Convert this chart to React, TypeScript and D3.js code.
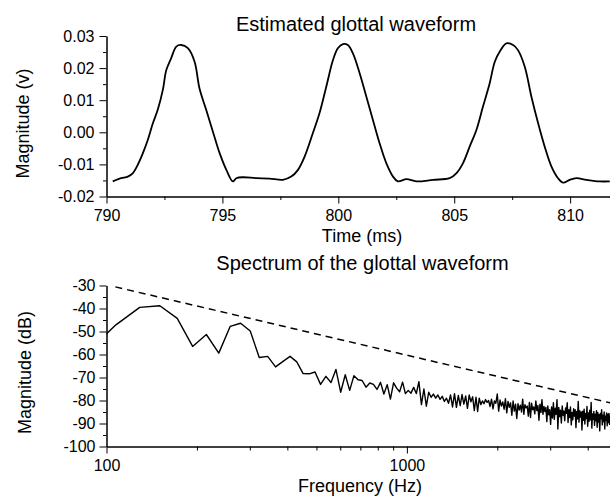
import React, { useRef, useEffect } from 'react';
import * as d3 from 'd3';

// glottal waveform (time in ms, magnitude in V)
const timeMs = [
  790.27, 790.63, 790.92, 791.14, 791.35, 791.57, 791.78, 792.0, 792.21, 792.43,
  792.58, 792.79, 793.01, 793.22, 793.51, 793.8, 794.01, 794.3, 794.59, 794.88,
  795.17, 795.45, 795.6, 795.88, 796.46, 797.03, 797.61, 797.97, 798.26, 798.55,
  798.9, 799.19, 799.48, 799.77, 799.98, 800.2, 800.41, 800.63, 800.92, 801.21,
  801.49, 801.78, 802.07, 802.36, 802.57, 802.94, 803.37, 804.09, 804.8, 805.1,
  805.38, 805.67, 805.96, 806.24, 806.53, 806.75, 806.96, 807.25, 807.54, 807.75,
  808.04, 808.33, 808.62, 808.9, 809.19, 809.48, 809.7, 809.98, 810.27, 810.7,
  811.28, 811.71,
];
const glottalV = [
  -0.0153, -0.0143, -0.0138, -0.0127, -0.0101, -0.0065, -0.0024, 0.0028, 0.0070, 0.0132,
  0.0194, 0.0231, 0.0267, 0.0272, 0.0262, 0.0220, 0.0137, 0.0070, 0.0002, -0.0065,
  -0.0117, -0.0153, -0.0143, -0.0140, -0.0143, -0.0144, -0.0148, -0.0138, -0.0117, -0.0075,
  -0.0003, 0.0060, 0.0142, 0.0225, 0.0262, 0.0275, 0.0272, 0.0246, 0.0184, 0.0111,
  0.0039, -0.0034, -0.0096, -0.0138, -0.0153, -0.0146, -0.0153, -0.0148, -0.0143, -0.0127,
  -0.0096, -0.0044, 0.0008, 0.0080, 0.0153, 0.0220, 0.0251, 0.0277, 0.0272, 0.0256,
  0.0205, 0.0111, 0.0028, -0.0044, -0.0106, -0.0143, -0.0157, -0.0148, -0.0143, -0.0148,
  -0.0153, -0.0153,
];

// spectrum: FFT bins of 21.5 Hz starting at bin 4
const binHz = 21.5;
const firstBin = 4;
const spectrumDb = [
  -59, -47.1, -39.5, -38.8, -44.3, -56.5, -51.3, -59.4, -47.8, -46.4,
  -49.8, -61.3, -60.8, -65.4, -63.0, -60.8, -63.2, -68.3, -68.4, -67.6,
  -73.0, -69.5, -72.2, -66.5, -76.4, -68.8, -75.6, -69.2, -71.0, -71.3,
  -74.2, -72.4, -73.0, -75.2, -72.1, -77.2, -73.1, -79.4, -72.3, -74.6,
  -76.2, -72.0, -77.0, -75.6, -76.8, -74.3, -77.0, -71.8, -81.8, -75.0,
  -82.5, -76.4, -78.6, -77.2, -79.0, -77.6, -79.5, -78.2, -80.4, -79.0,
  -81.2, -77.6, -82.8, -77.0, -83.0, -77.8, -82.2, -77.4, -81.6, -78.0,
  -83.4, -77.6, -80.6, -78.4, -84.4, -78.6, -84.8, -79.0, -81.8, -80.2,
  -81.4, -79.6, -80.8, -80.0, -82.6, -79.4, -83.6, -80.2, -81.2, -77.2,
  -84.6, -79.8, -82.4, -80.6, -83.8, -79.2, -85.4, -80.4, -83.0, -81.0,
  -86.4, -80.2, -84.6, -81.6, -87.8, -81.4, -84.2, -82.0, -85.0, -79.4,
  -86.0, -81.8, -83.2, -82.4, -86.8, -80.8, -87.4, -81.2, -84.0, -82.8,
  -85.8, -80.2, -84.4, -82.2, -88.6, -81.6, -85.2, -79.6, -86.0, -82.6,
  -84.8, -83.0, -89.2, -82.4, -86.2, -84.0, -90.4, -82.8, -87.6, -81.0,
  -88.2, -83.4, -86.0, -79.6, -92.4, -83.0, -87.0, -84.2, -89.8, -82.4,
  -86.4, -84.6, -88.8, -83.2, -85.6, -81.0, -89.6, -84.0, -87.4, -82.8,
  -90.6, -85.2, -88.4, -83.6, -86.8, -84.0, -91.8, -84.8, -88.0, -80.4,
  -89.4, -84.4, -87.2, -85.0, -92.8, -84.6, -88.6, -83.8, -90.2, -85.6,
  -87.8, -82.6, -91.2, -85.4, -89.0, -84.2, -88.4, -80.8, -92.0, -85.8,
  -88.2, -84.8, -90.8, -86.0, -88.8, -84.4, -91.6, -85.2, -89.4, -86.2,
  -93.2, -85.6, -88.0, -84.0, -90.6, -86.4, -89.2, -85.0, -92.4, -86.8,
  -88.6, -85.4, -91.0, -86.0, -89.6, -85.6, -90.4, -86.6,
];

// dashed envelope line
const envelopeHz = [107, 4745];
const envelopeDb = [-30.6, -81.0];

const topYTicks = [-0.02, -0.01, 0.0, 0.01, 0.02, 0.03];
const topXTicks = [790, 795, 800, 805, 810];
const botYTicks = [-100, -90, -80, -70, -60, -50, -40, -30];
const botXTicks = [100, 1000];

const FONT = '"Liberation Sans", Arial, sans-serif';

function App() {
  const ref = useRef<SVGSVGElement>(null);

  useEffect(() => {
    const svg = d3.select(ref.current);
    svg.selectAll('*').remove();

    const styleAxis = (g: any, fontSize: number) => {
      g.selectAll('path').attr('stroke', '#000').attr('stroke-width', 1);
      g.selectAll('line').attr('stroke', '#000').attr('stroke-width', 1);
      g.selectAll('text')
        .attr('fill', '#000')
        .style('font-family', FONT)
        .style('font-size', `${fontSize}px`);
    };

    // ---------- top panel ----------
    const x1 = d3.scaleLinear().domain([790, 811.72]).range([106.5, 610]);
    const y1 = d3.scaleLinear().domain([-0.02, 0.03]).range([196.5, 36]);

    const top = svg.append('g');

    top.append('g')
      .attr('transform', 'translate(106.5,0)')
      .call(d3.axisLeft(y1).tickValues(d3.range(-0.015, 0.03, 0.01)).tickSize(3.5).tickSizeOuter(0).tickFormat(() => ''))
      .call(g => styleAxis(g, 16));
    top.append('g')
      .attr('transform', 'translate(106.5,0)')
      .call(d3.axisLeft(y1).tickValues(topYTicks).tickSize(7).tickPadding(5).tickSizeOuter(0)
        .tickFormat(d => (+d).toFixed(2)))
      .call(g => styleAxis(g, 16));

    top.append('g')
      .attr('transform', 'translate(0,196.5)')
      .call(d3.axisBottom(x1).tickValues([792.5, 797.5, 802.5, 807.5]).tickSize(3.5).tickSizeOuter(0).tickFormat(() => ''))
      .call(g => styleAxis(g, 16));
    top.append('g')
      .attr('transform', 'translate(0,196.5)')
      .call(d3.axisBottom(x1).tickValues(topXTicks).tickSize(7).tickPadding(6).tickSizeOuter(0)
        .tickFormat(d => String(d)))
      .call(g => styleAxis(g, 16));

    const waveLine = d3.line<number>()
      .x((_, i) => x1(timeMs[i]))
      .y(d => y1(d))
      .curve(d3.curveCatmullRom);

    top.append('path')
      .datum(glottalV)
      .attr('d', waveLine)
      .attr('fill', 'none')
      .attr('stroke', '#000')
      .attr('stroke-width', 1.8);

    top.append('text')
      .attr('x', 356).attr('y', 31)
      .attr('text-anchor', 'middle')
      .style('font-family', FONT).style('font-size', '20px')
      .text('Estimated glottal waveform');
    top.append('text')
      .attr('x', 362).attr('y', 242)
      .attr('text-anchor', 'middle')
      .style('font-family', FONT).style('font-size', '18px')
      .text('Time (ms)');
    top.append('text')
      .attr('transform', 'translate(28.5,123.5) rotate(-90)')
      .attr('text-anchor', 'middle')
      .style('font-family', FONT).style('font-size', '18px')
      .text('Magnitude (v)');

    // ---------- bottom panel ----------
    const x2 = d3.scaleLog().domain([100, 4745]).range([106.5, 610]);
    const y2 = d3.scaleLinear().domain([-100, -30]).range([446.5, 285.5]);

    const bot = svg.append('g');

    bot.append('defs').append('clipPath').attr('id', 'specClip')
      .append('rect').attr('x', 106.5).attr('y', 270).attr('width', 510).attr('height', 177);

    bot.append('g')
      .attr('transform', 'translate(106.5,0)')
      .call(d3.axisLeft(y2).tickValues(d3.range(-95, -30, 10)).tickSize(3.5).tickSizeOuter(0).tickFormat(() => ''))
      .call(g => styleAxis(g, 16));
    bot.append('g')
      .attr('transform', 'translate(106.5,0)')
      .call(d3.axisLeft(y2).tickValues(botYTicks).tickSize(7).tickPadding(4).tickSizeOuter(0)
        .tickFormat(d => String(d)))
      .call(g => styleAxis(g, 16));

    bot.append('g')
      .attr('transform', 'translate(0,446.5)')
      .call(d3.axisBottom(x2).tickValues([200, 300, 400, 500, 600, 700, 800, 900, 2000, 3000, 4000])
        .tickSize(4).tickSizeOuter(0).tickFormat(() => ''))
      .call(g => styleAxis(g, 16));
    bot.append('g')
      .attr('transform', 'translate(0,446.5)')
      .call(d3.axisBottom(x2).tickValues(botXTicks).tickSize(7).tickPadding(6).tickSizeOuter(0)
        .tickFormat(d => String(d)))
      .call(g => styleAxis(g, 16));

    const specLine = d3.line<number>()
      .x((_, i) => x2((i + firstBin) * binHz))
      .y(d => y2(d));

    bot.append('path')
      .datum(spectrumDb)
      .attr('clip-path', 'url(#specClip)')
      .attr('d', specLine)
      .attr('fill', 'none')
      .attr('stroke', '#000')
      .attr('stroke-width', 1.4)
      .attr('stroke-linejoin', 'round');

    const envLine = d3.line<number>()
      .x((_, i) => x2(envelopeHz[i]))
      .y(d => y2(d));

    bot.append('path')
      .datum(envelopeDb)
      .attr('d', envLine)
      .attr('fill', 'none')
      .attr('stroke', '#000')
      .attr('stroke-width', 1.5)
      .attr('stroke-dasharray', '7,5');

    bot.append('text')
      .attr('x', 362.5).attr('y', 270)
      .attr('text-anchor', 'middle')
      .style('font-family', FONT).style('font-size', '20px')
      .text('Spectrum of the glottal waveform');
    bot.append('text')
      .attr('x', 360).attr('y', 492)
      .attr('text-anchor', 'middle')
      .style('font-family', FONT).style('font-size', '18px')
      .text('Frequency (Hz)');
    bot.append('text')
      .attr('transform', 'translate(31,372.5) rotate(-90)')
      .attr('text-anchor', 'middle')
      .style('font-family', FONT).style('font-size', '18px')
      .text('Magnitude (dB)');
  }, []);

  return (
    <svg
      ref={ref}
      width={610}
      height={496}
      style={{ position: 'absolute', left: 0, top: 0, background: '#fff' }}
    />
  );
}

export default App;
